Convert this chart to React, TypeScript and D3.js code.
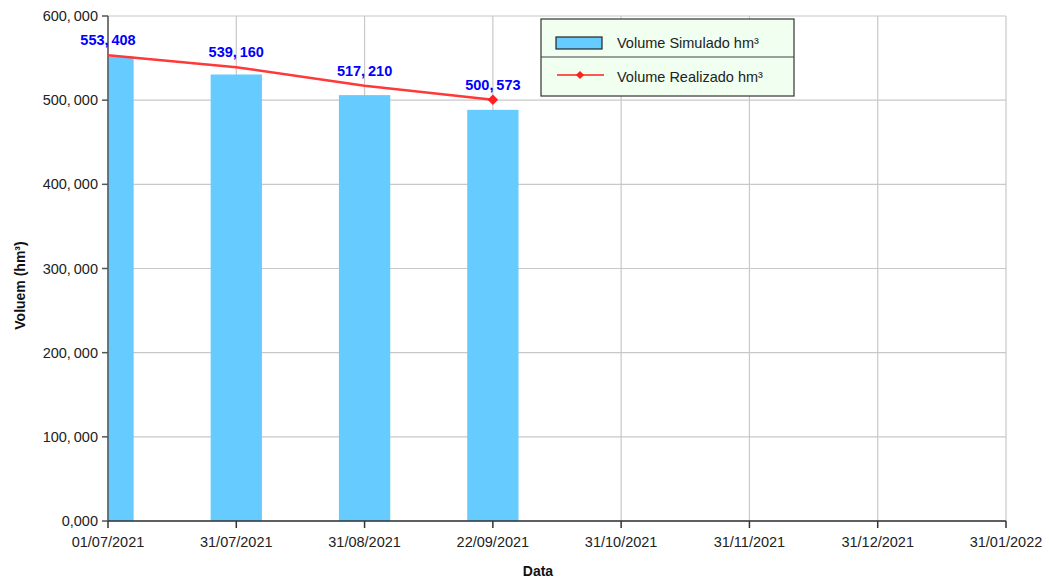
import React from "react";
import * as d3 from "d3";

const dates = [
  "01/07/2021",
  "31/07/2021",
  "31/08/2021",
  "22/09/2021",
  "31/10/2021",
  "31/11/2021",
  "31/12/2021",
  "31/01/2022",
];
const simulado = [552000, 530500, 506000, 488500];
const realizado = [553408, 539160, 517210, 500573];
const yTicks = [0, 100000, 200000, 300000, 400000, 500000, 600000];

const W = 1049;
const H = 578;
const left = 108;
const right = 1006;
const top = 16;
const bottom = 521;

const fmt = (v: number) => d3.format(",")(v).replace(",", ",\u2009");
const tickFmt = (v: number) => (v === 0 ? "0,000" : d3.format(",")(v).replace(",", ",\u2009"));

const App: React.FC = () => {
  const x = d3.scalePoint<string>().domain(dates).range([left, right]);
  const y = d3.scaleLinear().domain([0, 600000]).range([bottom, top]);
  const barW = x.step() * 0.4;

  const line = d3
    .line<number>()
    .x((_, i) => x(dates[i])!)
    .y((d) => y(d));

  const font = "Arial, 'Liberation Sans', sans-serif";
  const last = realizado.length - 1;

  return (
    <svg
      width={W}
      height={H}
      style={{ position: "absolute", left: 0, top: 0, background: "#fff" }}
      fontFamily={font}
    >
      <defs>
        <clipPath id="plot">
          <rect x={left} y={top} width={right - left} height={bottom - top} />
        </clipPath>
      </defs>

      {/* grid */}
      {yTicks.map((t) => (
        <line key={"gy" + t} x1={left} x2={right} y1={y(t)} y2={y(t)} stroke="#c8c8c8" strokeWidth={1.2} />
      ))}
      {dates.map((d) => (
        <line key={"gx" + d} x1={x(d)} x2={x(d)} y1={top} y2={bottom} stroke="#c8c8c8" strokeWidth={1.2} />
      ))}

      {/* bars */}
      <g clipPath="url(#plot)">
        {simulado.map((v, i) => (
          <rect
            key={"b" + i}
            x={x(dates[i])! - barW / 2}
            y={y(v)}
            width={barW}
            height={bottom - y(v)}
            fill="#66ccff"
          />
        ))}
      </g>

      {/* axes */}
      <line x1={left} x2={left} y1={top} y2={bottom} stroke="#555" strokeWidth={1.5} />
      <line x1={left} x2={right} y1={bottom} y2={bottom} stroke="#333" strokeWidth={1.5} />
      {yTicks.map((t) => (
        <g key={"yt" + t}>
          <line x1={left - 6} x2={left} y1={y(t)} y2={y(t)} stroke="#555" strokeWidth={1.5} />
          <text x={left - 10} y={y(t)} dy="0.35em" textAnchor="end" fontSize={14.5} fill="#222">
            {tickFmt(t)}
          </text>
        </g>
      ))}
      {dates.map((d) => (
        <g key={"xt" + d}>
          <line x1={x(d)} x2={x(d)} y1={bottom} y2={bottom + 7} stroke="#333" strokeWidth={1.5} />
          <text x={x(d)} y={bottom + 26} textAnchor="middle" fontSize={14.5} fill="#222">
            {d}
          </text>
        </g>
      ))}

      {/* line */}
      <path d={line(realizado)!} fill="none" stroke="#ff3838" strokeWidth={2.6} />
      <path
        d={d3.symbol(d3.symbolSquare, 56)()!}
        transform={`translate(${x(dates[last])},${y(realizado[last])}) rotate(45)`}
        fill="#ff2020"
      />
      {realizado.map((v, i) => (
        <text
          key={"l" + i}
          x={x(dates[i])}
          y={y(v) - 10}
          textAnchor="middle"
          fontSize={14.5}
          fontWeight="bold"
          fill="#0000ff"
        >
          {fmt(v)}
        </text>
      ))}

      {/* axis titles */}
      <text
        transform={`translate(25,${(top + bottom) / 2 + 17}) rotate(-90)`}
        textAnchor="middle"
        fontSize={14}
        fontWeight="bold"
        fill="#111"
      >
        Voluem (hm³)
      </text>
      <text x={538} y={576} textAnchor="middle" fontSize={14} fontWeight="bold" fill="#111">
        Data
      </text>

      {/* legend */}
      <g transform="translate(541,19)">
        <rect x={0} y={0} width={253} height={77} fill="#f0fff0" stroke="#333" strokeWidth={1.2} />
        <line x1={0} x2={253} y1={38} y2={38} stroke="#444" strokeWidth={1.2} />
        <rect x={15} y={18} width={46} height={12} fill="#66ccff" stroke="#222" strokeWidth={1.2} />
        <text x={76} y={24} dy="0.35em" fontSize={14.5} fill="#222">
          Volume Simulado hm³
        </text>
        <line x1={16} x2={63} y1={56} y2={56} stroke="#ff2020" strokeWidth={1.5} />
        <path d={d3.symbol(d3.symbolSquare, 34)()!} transform="translate(39,56) rotate(45)" fill="#ff2020" />
        <text x={76} y={58} dy="0.35em" fontSize={14.5} fill="#222">
          Volume Realizado hm³
        </text>
      </g>
    </svg>
  );
};

export default App;
